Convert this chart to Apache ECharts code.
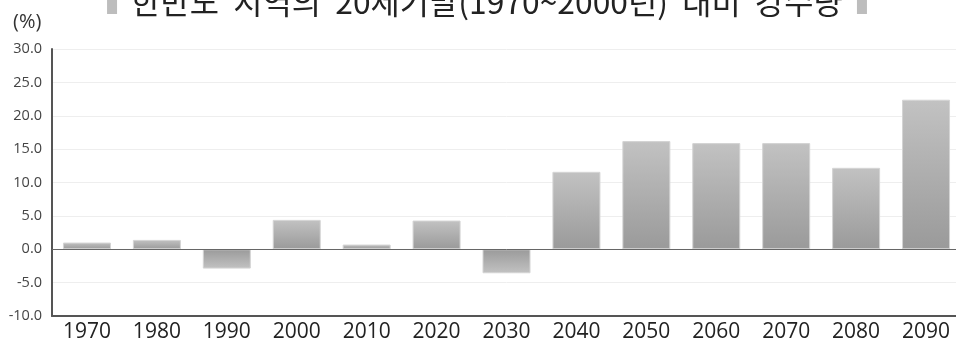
<!DOCTYPE html>
<html><head><meta charset="utf-8">
<script src="https://cdn.jsdelivr.net/npm/echarts@6/dist/echarts.min.js"></script>
<style>html,body{margin:0;padding:0;background:#fff;overflow:hidden}#c{width:961px;height:345px}</style>
</head><body><div id="c"></div>
<script>
var categories = ['1970','1980','1990','2000','2010','2020','2030','2040','2050','2060','2070','2080','2090'];
var values = [1.0, 1.4, -2.9, 4.4, 0.7, 4.3, -3.6, 11.6, 16.2, 15.9, 15.9, 12.2, 22.4];
var yTicks = { min: -10, max: 30, interval: 5 };
var titleText = '한반도  지역의  20세기말(1970~2000년)  대비  강수량';
var unitText = '(%)';

function grad(neg) {
  var light = '#c2c2c2', dark = '#9a9a9a';
  return new echarts.graphic.LinearGradient(0, 0, 0, 1, neg ?
    [{offset: 0, color: dark}, {offset: 1, color: light}] :
    [{offset: 0, color: light}, {offset: 1, color: dark}]);
}
var data = values.map(function (v) {
  return { value: v, itemStyle: { color: grad(v < 0), borderColor: '#d4d4d4', borderWidth: 1 } };
});

var chart = echarts.init(document.getElementById('c'));
chart.setOption({
  animation: false,
  title: {
    text: '{sq|}  ' + titleText + '  {sq|}',
    left: 482, textAlign: 'center', top: -19,
    textStyle: {
      fontFamily: 'Noto Sans CJK KR', fontSize: 31.8, fontWeight: 'normal', color: '#222',
      rich: { sq: { width: 10, height: 28, backgroundColor: '#bdbdbd', verticalAlign: 'top' } }
    }
  },
  graphic: [{
    type: 'text', left: 13, top: 12,
    style: { text: unitText, font: '20px "Open Sans"', fill: '#333' }
  }],
  grid: { left: 52, right: 0, top: 49, bottom: 29, containLabel: false },
  xAxis: {
    type: 'category', data: categories,
    axisLine: { onZero: false, lineStyle: { color: '#555', width: 2 } },
    axisTick: { show: false },
    axisLabel: { color: '#222', fontSize: 21, fontFamily: 'Open Sans', margin: 6 }
  },
  yAxis: {
    type: 'value', min: yTicks.min, max: yTicks.max, interval: yTicks.interval,
    axisLine: { show: true, lineStyle: { color: '#555', width: 2 } },
    axisTick: { show: false },
    splitLine: { lineStyle: { color: '#eeeeee', width: 1 } },
    axisLabel: { color: '#444', fontSize: 14.5, fontFamily: 'Open Sans', margin: 10,
      formatter: function (v) { return v.toFixed(1); } }
  },
  series: [{
    type: 'bar', data: data, barWidth: 48,
    markLine: {
      silent: true, symbol: 'none', label: { show: false },
      lineStyle: { color: '#666', width: 1, type: 'solid' },
      data: [{ yAxis: 0 }]
    }
  }]
});
</script></body></html>
